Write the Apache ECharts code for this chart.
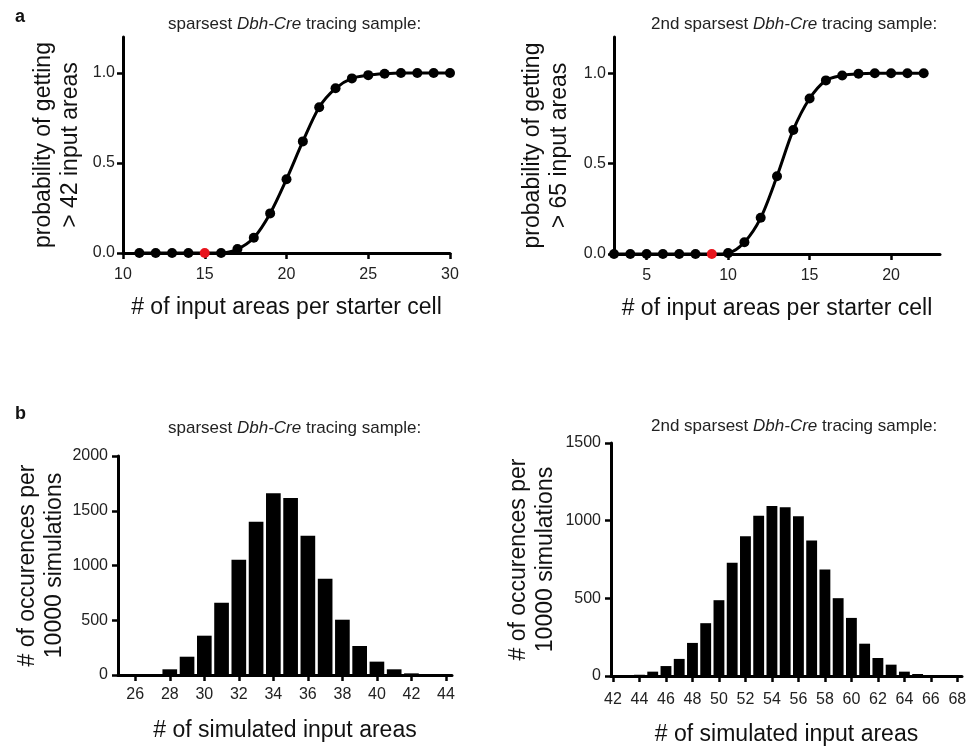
<!DOCTYPE html>
<html><head><meta charset="utf-8">
<script src="https://cdn.jsdelivr.net/npm/echarts@6/dist/echarts.min.js"></script>
<style>html,body{margin:0;padding:0;background:#fff}#c{width:972px;height:749px}</style>
</head><body><div id="c"></div>
<script>
// ---- data ----
const probAX = [11,12,13,14,15,16,17,18,19,20,21,22,23,24,25,26,27,28,29,30];
const probAY = [0,0,0,0,0,0,0.022,0.085,0.22,0.41,0.62,0.81,0.915,0.97,0.988,0.996,1,1,1,1];
const probARed = 15;
const probBX = [3,4,5,6,7,8,9,10,11,12,13,14,15,16,17,18,19,20,21,22];
const probBY = [0,0,0,0,0,0,0,0.005,0.065,0.2,0.43,0.686,0.86,0.96,0.987,0.997,1,1,1,1];
const probBRed = 9;
const histAX = [26,27,28,29,30,31,32,33,34,35,36,37,38,39,40,41,42,43];
const histAY = [1,5,52,167,359,660,1053,1400,1659,1616,1272,880,505,265,122,52,15,3];
const histBX = [43,44,45,46,47,48,49,50,51,52,53,54,55,56,57,58,59,60,61,62,63,64,65,66,67];
const histBY = [3,8,28,64,110,213,340,488,729,900,1032,1094,1087,1029,873,686,501,374,208,116,73,28,13,5,3];
const ticksProbAX = [10,15,20,25,30];
const ticksProbBX = [5,10,15,20];
const ticksProbY = [0,0.5,1];
const ticksHistAY = [0,500,1000,1500,2000];
const ticksHistBY = [0,500,1000,1500];
const ticksHistAX = [26,28,30,32,34,36,38,40,42,44];
const ticksHistBX = [42,44,46,48,50,52,54,56,58,60,62,64,66,68];
const titleTop = 'sparsest ';
const titleTop2 = '2nd sparsest ';

const FONT = '"Liberation Sans", Arial, Helvetica, sans-serif';
const RED = '#e8141c';
const chart = echarts.init(document.getElementById('c'), null, {renderer:'canvas'});

function axisCommon(){
  return {
    axisLine:{show:true, onZero:false, lineStyle:{color:'#000', width:3}},
    axisTick:{show:true, inside:false, length:6, lineStyle:{color:'#000', width:2.5}},
    splitLine:{show:false},
    nameTextStyle:{fontFamily:FONT, fontSize:23, color:'#111', lineHeight:27},
  };
}
function xAx(idx, min, max, ticks, gap, margin){
  const a = axisCommon();
  return Object.assign(a, {
    type:'value', gridIndex:idx, min:min, max:max,
    name: idx<2 ? '# of input areas per starter cell' : '# of simulated input areas',
    nameLocation:'middle', nameGap:gap,
    axisTick:Object.assign(a.axisTick, {customValues:ticks}),
    axisLabel:{customValues:ticks, margin:margin, fontFamily:FONT, fontSize:16, color:'#222', hideOverlap:false},
  });
}
function yAx(idx, min, max, ticks, name, gap, fmt, margin){
  const a = axisCommon();
  return Object.assign(a, {
    type:'value', gridIndex:idx, min:min, max:max,
    name:name, nameLocation:'middle', nameRotate:90, nameGap:gap,
    axisTick:Object.assign(a.axisTick, {customValues:ticks}),
    axisLabel:{customValues:ticks, margin:margin, fontFamily:FONT, fontSize:16, color:'#222', formatter:fmt},
  });
}
function lineSeries(idx, xs, ys, red){
  return {
    type:'line', xAxisIndex:idx, yAxisIndex:idx, smooth:0.3,
    symbol:'circle', symbolSize:10,
    lineStyle:{color:'#000', width:3}, itemStyle:{color:'#000'},
    data: xs.map((x,i)=> x===red ? {value:[x,ys[i]], itemStyle:{color:RED}} : [x,ys[i]]),
    z:5
  };
}
function histSeries(idx, xs, ys, frac){
  return {
    type:'custom', xAxisIndex:idx, yAxisIndex:idx,
    data: xs.map((x,i)=>[x,ys[i]]),
    renderItem:function(params, api){
      const x = api.value(0), y = api.value(1);
      const p0 = api.coord([x - frac/2, y]);
      const p1 = api.coord([x + frac/2, 0]);
      return {type:'rect', shape:{x:p0[0], y:p0[1], width:p1[0]-p0[0], height:p1[1]-p0[1]}, style:{fill:'#000'}};
    },
    z:1
  };
}
function title(text, left, top){
  return {
    text:'{n|'+text+'}{i|Dbh-Cre}{n| tracing sample:}', left:left, top:top,
    textStyle:{fontWeight:'normal', rich:{
      n:{fontFamily:FONT, fontSize:17, color:'#222', fontWeight:'normal'},
      i:{fontFamily:FONT, fontSize:17, color:'#222', fontStyle:'italic', fontWeight:'normal'}
    }}
  };
}
const fmt1 = v => v.toFixed(1);
const fmt0 = v => String(v);

chart.setOption({
  animation:false,
  backgroundColor:'#fff',
  title:[
    title(titleTop,163,11), title(titleTop2,646,11),
    title(titleTop,163,415), title(titleTop2,646,413),
    {text:'a', left:10, top:3, textStyle:{fontFamily:FONT, fontSize:18, fontWeight:'bold', color:'#111'}},
    {text:'b', left:10, top:400, textStyle:{fontFamily:FONT, fontSize:18, fontWeight:'bold', color:'#111'}}
  ],
  grid:[
    {left:123, width:327, top:37, height:216, outerBoundsMode:'none'},
    {left:614, width:326, top:37, height:217, outerBoundsMode:'none'},
    {left:118, width:334, top:456, height:219, outerBoundsMode:'none'},
    {left:611, width:351, top:443, height:233, outerBoundsMode:'none'}
  ],
  xAxis:[
    xAx(0,10,30,ticksProbAX,41,14),
    xAx(1,3,23,ticksProbBX,41,14),
    xAx(2,25,44.35,ticksHistAX,42,12),
    xAx(3,41.85,68.35,ticksHistBX,45,16)
  ],
  yAxis:[
    yAx(0,0,1.2,ticksProbY,'probability of getting\n> 42 input areas',39,fmt1,8),
    yAx(1,0,1.2,ticksProbY,'probability of getting\n> 65 input areas',41,fmt1,8),
    yAx(2,0,2000,ticksHistAY,'# of occurences per\n10000 simulations',48,fmt0,10),
    yAx(3,0,1500,ticksHistBY,'# of occurences per\n10000 simulations',52,fmt0,10)
  ],
  series:[
    lineSeries(0, probAX, probAY, probARed),
    lineSeries(1, probBX, probBY, probBRed),
    histSeries(2, histAX, histAY, 0.85),
    histSeries(3, histBX, histBY, 0.82)
  ]
});
</script></body></html>
